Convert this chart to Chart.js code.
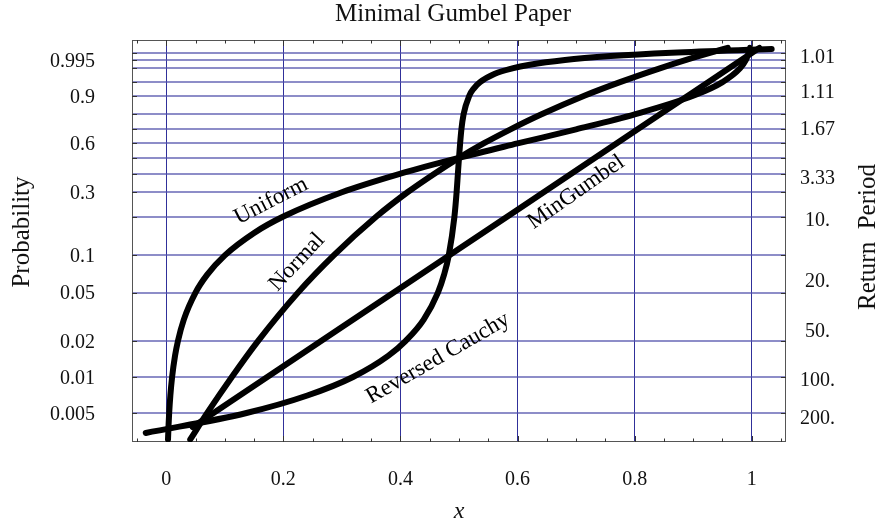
<!DOCTYPE html>
<html><head><meta charset="utf-8">
<script src="https://cdn.jsdelivr.net/npm/chart.js@4/dist/chart.umd.min.js"></script>
<style>html,body{margin:0;padding:0;background:#fff}#wrap{width:879px;height:526px}</style>
</head><body><div id="wrap"><canvas id="c" width="879" height="526"></canvas></div>
<script>
// ---- data (x, probability) ----
const uniformX = [0.003, 0.004, 0.005, 0.007, 0.01, 0.015, 0.02, 0.03, 0.05, 0.07, 0.1, 0.15, 0.2, 0.3, 0.4, 0.5, 0.6, 0.7, 0.8, 0.9, 0.95, 0.98, 0.99, 0.995, 0.997];
const uniformP = [0.003, 0.004, 0.005, 0.007, 0.01, 0.015, 0.02, 0.03, 0.05, 0.07, 0.1, 0.15, 0.2, 0.3, 0.4, 0.5, 0.6, 0.7, 0.8, 0.9, 0.95, 0.98, 0.99, 0.995, 0.997];

const normalX = [0.041, 0.070, 0.112, 0.157, 0.225, 0.286, 0.359, 0.412, 0.458, 0.5, 0.542, 0.588, 0.641, 0.714, 0.775, 0.843, 0.888, 0.930, 0.959];
const normalP = [0.003, 0.005, 0.01, 0.02, 0.05, 0.1, 0.2, 0.3, 0.4, 0.5, 0.6, 0.7, 0.8, 0.9, 0.95, 0.98, 0.99, 0.995, 0.997];

const minGumbelX = [0.045, 0.2, 0.4, 0.6, 0.8, 0.9, 1.0, 1.013];
const minGumbelP = [0.003811, 0.01227, 0.05454, 0.2251, 0.6860, 0.9154, 0.99483, 0.99700];

const cauchyX = [-0.035, 0.137, 0.241, 0.319, 0.379, 0.409, 0.4397, 0.464, 0.4745, 0.4825, 0.4922, 0.4959, 0.4981, 0.5, 0.5019, 0.5041, 0.5078, 0.5175, 0.5255, 0.536, 0.5603, 0.591, 0.6209, 0.681, 0.759, 0.863, 1.034];
const cauchyP = [0.0034, 0.005, 0.007, 0.01, 0.015, 0.02, 0.03, 0.05, 0.07, 0.1, 0.2, 0.3, 0.4, 0.5, 0.6, 0.7, 0.8, 0.9, 0.93, 0.95, 0.97, 0.98, 0.985, 0.99, 0.993, 0.995, 0.9966];

// ---- axes / ticks ----
const xTickValues = [0, 0.2, 0.4, 0.6, 0.8, 1];
const xTickLabels = ['0', '0.2', '0.4', '0.6', '0.8', '1'];
const gridProbs = [0.005, 0.01, 0.02, 0.05, 0.1, 0.2, 0.3, 0.4, 0.5, 0.6, 0.7, 0.8, 0.9, 0.95, 0.98, 0.99, 0.995];
const leftTickPos = [0.005, 0.01, 0.02, 0.05, 0.1, 0.3, 0.6, 0.9, 0.99];
const leftTickLabels = ['0.005', '0.01', '0.02', '0.05', '0.1', '0.3', '0.6', '0.9', '0.995'];
const rightTickPos = [0.004631, 0.009571, 0.02452, 0.06321, 0.1914, 0.3821, 0.7070, 0.9173, 0.99258];
const rightTickLabels = ['200.', '100.', '50.', '20.', '10.', '3.33', '1.67', '1.11', '1.01'];

// ---- curve labels ----
const curveLabels = ['Uniform', 'Normal', 'MinGumbel', 'Reversed Cauchy'];
const curveLabelX = [0.179, 0.2234, 0.7, 0.4642];
const curveLabelP = [0.2598, 0.0883, 0.30, 0.01433];
const curveLabelAngle = [-27, -47, -35, -30];

const TITLE = 'Minimal Gumbel Paper';
const FONT = "'Liberation Serif', 'Times New Roman', serif";
function paper(p) { return Math.log(-Math.log(1 - p)); }
function pts(xs, ps) { return xs.map((x, i) => ({x: x, y: paper(ps[i])})); }

const Y_MIN = -5.857, Y_MAX = 1.912;

function mkDs(label, xs, ps) {
  return {label, data: pts(xs, ps), showLine: true, pointRadius: 0, borderColor: '#000', borderWidth: 6,
    borderCapStyle: 'round', borderJoinStyle: 'round', cubicInterpolationMode: 'monotone', fill: false};
}

const decor = {
  id: 'decor',
  beforeDatasetsDraw(chart) {
    const {ctx, chartArea: a, scales} = chart;
    const xs = scales.x, ys = scales.y;
    ctx.save();
    ctx.strokeStyle = '#555'; ctx.lineWidth = 1;
    ctx.strokeRect(a.left + 0.5, a.top + 0.5, a.right - a.left - 1, a.bottom - a.top - 1);
    ctx.strokeStyle = '#333';
    ctx.beginPath();
    for (let k = -1; k <= 21; k++) {
      const v = k * 0.05;
      const px = Math.round(xs.getPixelForValue(v)) + 0.5;
      if (px < a.left || px > a.right) continue;
      const len = (k % 4 === 0) ? 6 : 3.5;
      ctx.moveTo(px, a.bottom); ctx.lineTo(px, a.bottom - len);
      ctx.moveTo(px, a.top); ctx.lineTo(px, a.top + len);
    }
    gridProbs.forEach(p => {
      const py = Math.round(ys.getPixelForValue(paper(p))) + 0.5;
      ctx.moveTo(a.left, py); ctx.lineTo(a.left + 5, py);
      ctx.moveTo(a.right, py); ctx.lineTo(a.right - 5, py);
    });
    ctx.stroke();
    ctx.restore();
  },
  afterDraw(chart) {
    const {ctx, scales} = chart;
    ctx.save();
    ctx.fillStyle = '#111';
    ctx.textAlign = 'center'; ctx.textBaseline = 'alphabetic';
    ctx.font = '25px ' + FONT;
    ctx.fillText(TITLE, 453, 20.5);
    ctx.fillStyle = '#000';
    ctx.textBaseline = 'middle';
    ctx.font = '23px ' + FONT;
    curveLabels.forEach((t, i) => {
      const px = scales.x.getPixelForValue(curveLabelX[i]);
      const py = scales.y.getPixelForValue(paper(curveLabelP[i]));
      ctx.save(); ctx.translate(px, py); ctx.rotate(curveLabelAngle[i] * Math.PI / 180);
      ctx.fillText(t, 0, 0); ctx.restore();
    });
    ctx.fillStyle = '#111';
    ctx.font = '25px ' + FONT;
    ctx.save(); ctx.translate(22, 232); ctx.rotate(-Math.PI / 2); ctx.fillText('Probability', 0, 0); ctx.restore();
    ctx.save(); ctx.translate(868, 237); ctx.rotate(-Math.PI / 2); ctx.fillText('Return  Period', 0, 0); ctx.restore();
    ctx.restore();
  }
};

function noPad(s) { s.paddingTop = 0; s.paddingBottom = 0; s.paddingLeft = 0; s.paddingRight = 0; }

new Chart(document.getElementById('c'), {
  type: 'scatter',
  data: {datasets: [
    mkDs('Uniform', uniformX, uniformP),
    mkDs('Normal', normalX, normalP),
    mkDs('MinGumbel', minGumbelX, minGumbelP),
    mkDs('Reversed Cauchy', cauchyX, cauchyP)
  ]},
  options: {
    responsive: false, animation: false, devicePixelRatio: 1,
    layout: {padding: {left: 27, right: 0, top: 40, bottom: 0}},
    plugins: {
      legend: {display: false}, tooltip: {enabled: false}, title: {display: false}
    },
    scales: {
      x: {type: 'linear', position: 'bottom', min: -0.0585, max: 1.0585,
        afterBuildTicks: s => { s.ticks = xTickValues.map(v => ({value: v})); },
        afterFit: s => { s.height = 84; noPad(s); },
        ticks: {autoSkip: false, maxRotation: 0, padding: 26, color: '#111', font: {family: FONT, size: 20},
          callback: (v, i) => xTickLabels[i]},
        grid: {color: '#30309a', lineWidth: 1, drawTicks: false},
        border: {display: false},
        title: {display: true, text: 'x', color: '#111', font: {family: FONT, size: 24, style: 'italic'}, padding: 0}
      },
      y: {type: 'linear', position: 'left', min: Y_MIN, max: Y_MAX,
        afterBuildTicks: s => { s.ticks = gridProbs.map(p => ({value: paper(p)})); },
        afterFit: s => { s.width = 105; noPad(s); },
        ticks: {autoSkip: false, padding: 37, labelOffset: 1.5, color: '#111', font: {family: FONT, size: 20},
          callback: (v) => { const i = leftTickPos.findIndex(p => Math.abs(paper(p) - v) < 1e-6); return i >= 0 ? leftTickLabels[i] : ''; }},
        grid: {color: 'rgba(80,80,170,0.65)', lineWidth: 2, drawTicks: false},
        border: {display: false}
      },
      y2: {type: 'linear', position: 'right', min: Y_MIN, max: Y_MAX,
        afterBuildTicks: s => { s.ticks = rightTickPos.map(p => ({value: paper(p)})); },
        afterFit: s => { s.width = 93; noPad(s); },
        ticks: {autoSkip: false, padding: 14, labelOffset: 1.5, crossAlign: 'center', color: '#111', font: {family: FONT, size: 20},
          callback: (v, i) => rightTickLabels[i]},
        grid: {display: false, drawTicks: false},
        border: {display: false}
      }
    }
  },
  plugins: [decor]
});
</script></body></html>
